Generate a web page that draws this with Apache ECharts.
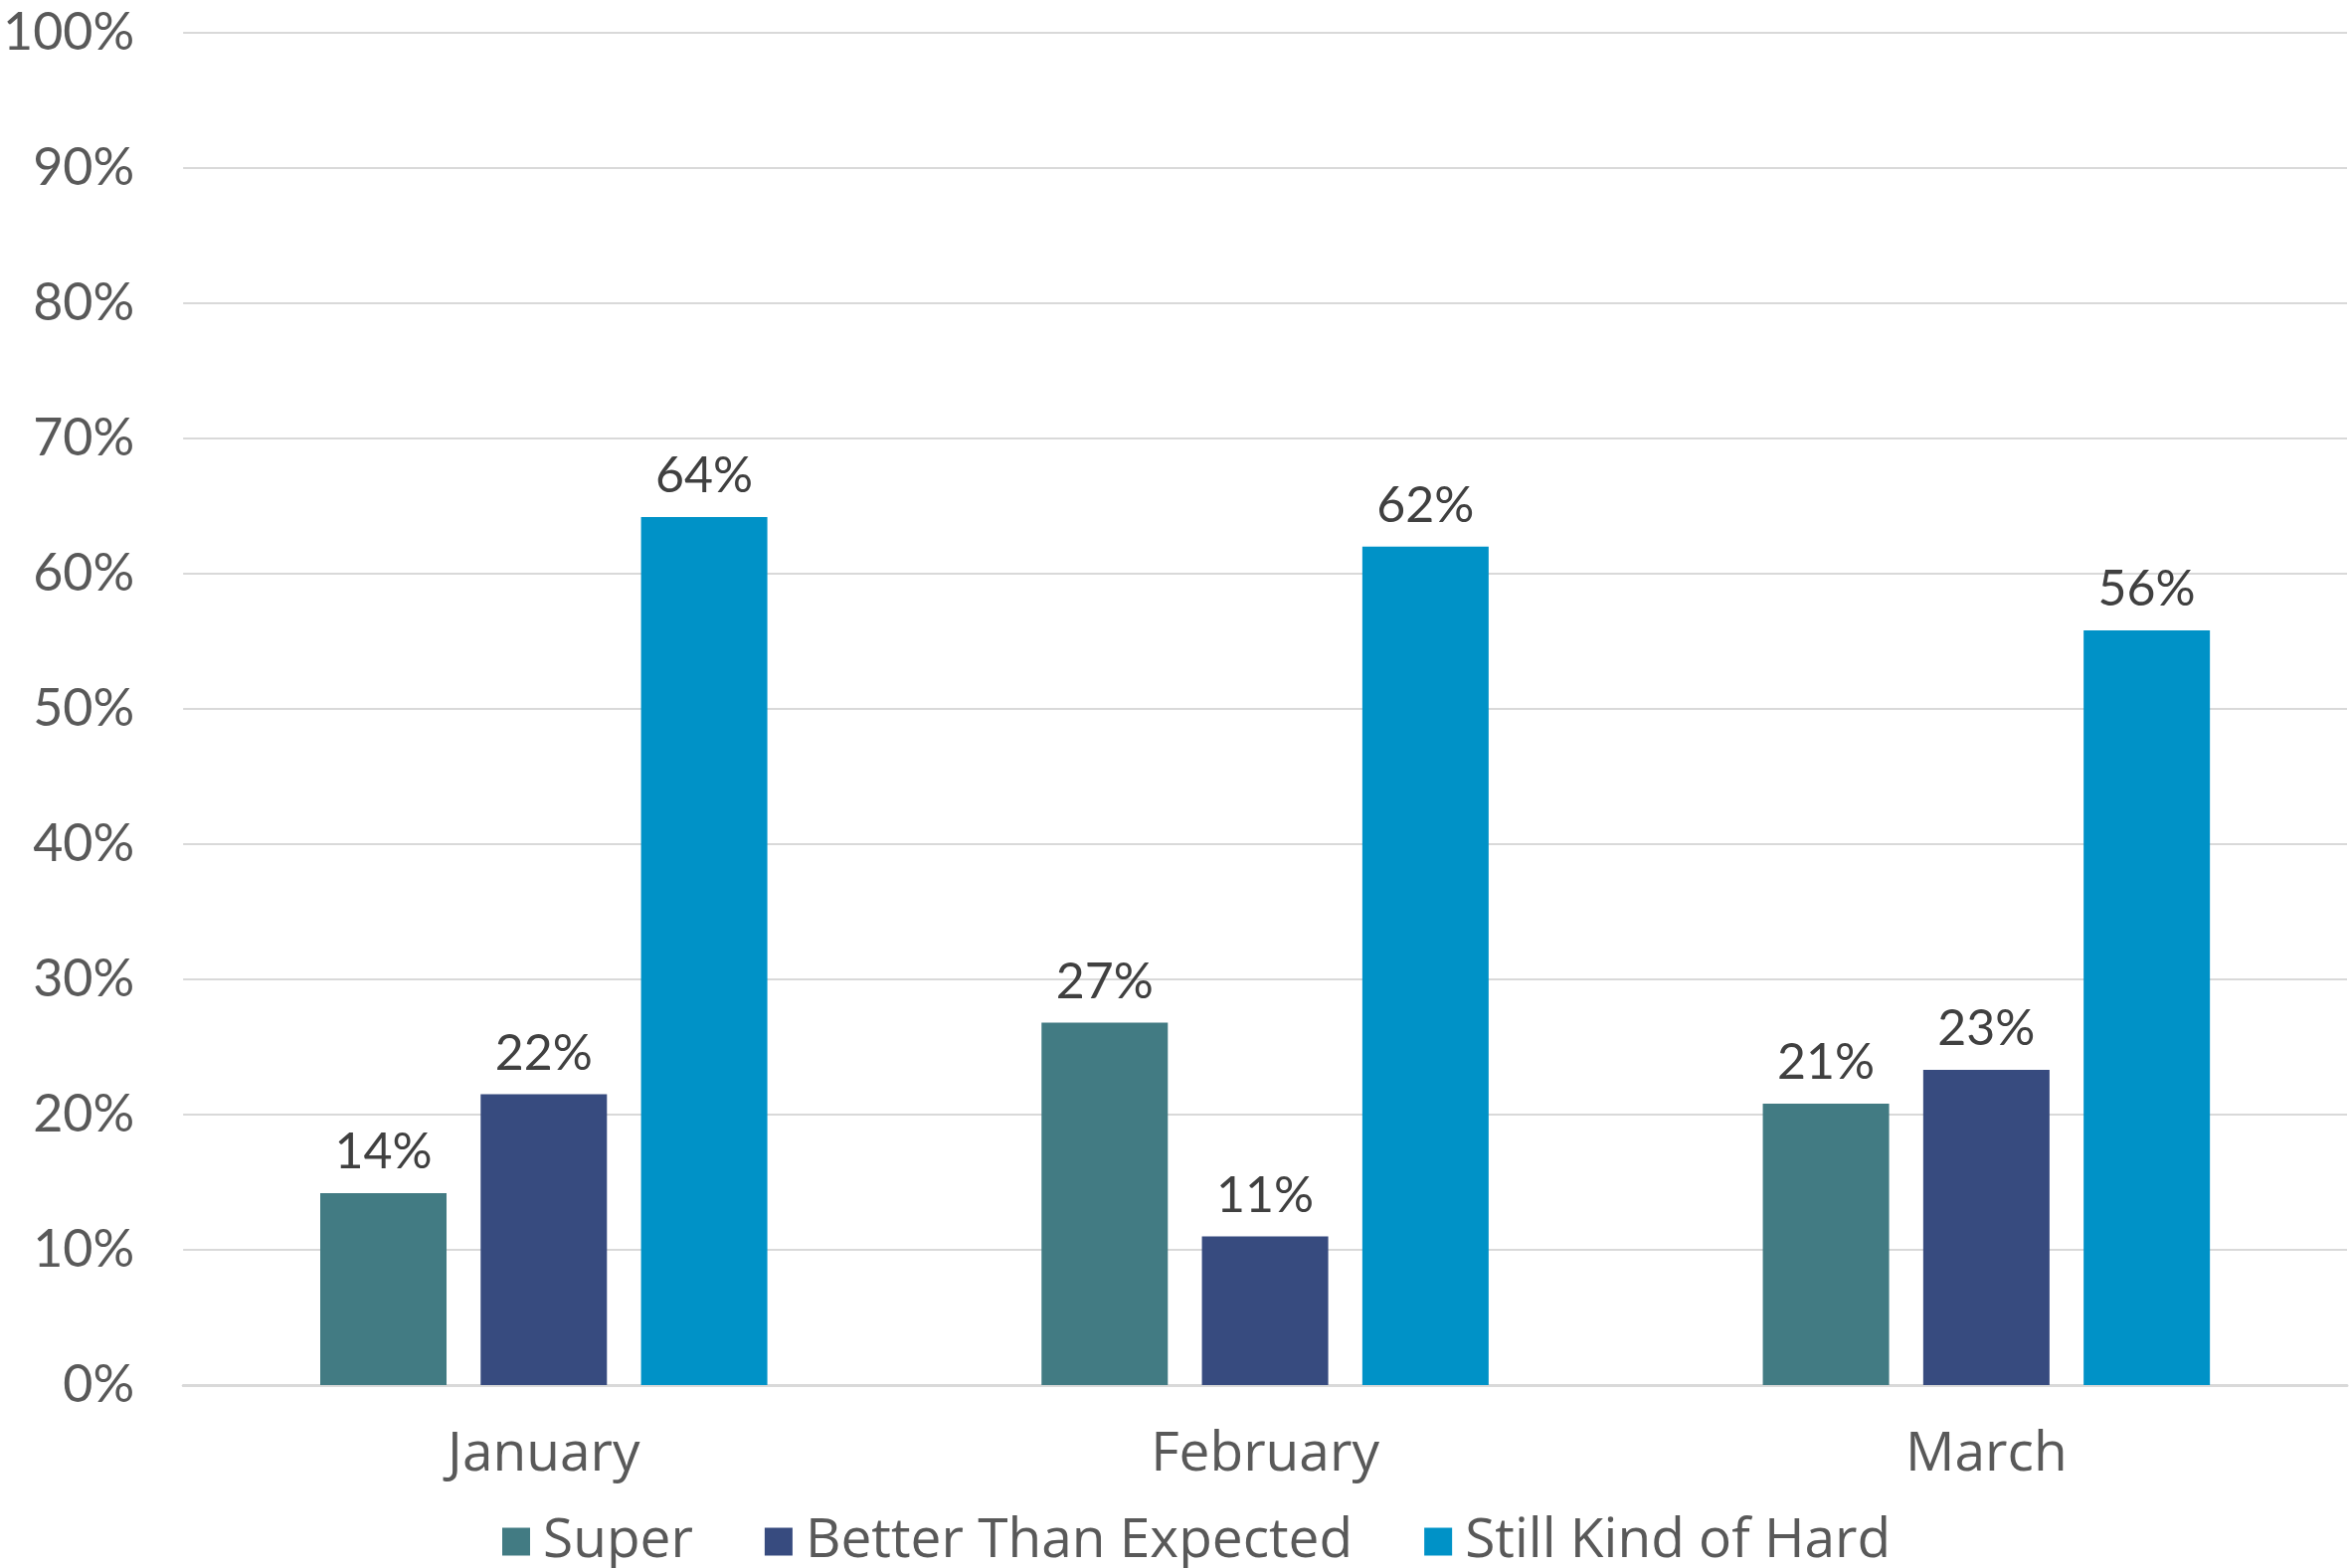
<!DOCTYPE html>
<html>
<head>
<meta charset="utf-8">
<script src="https://cdn.jsdelivr.net/npm/echarts@6/dist/echarts.min.js"></script>
<style>
html,body{margin:0;padding:0;background:#fff;}
#chart{width:2362px;height:1577px;}
</style>
</head>
<body>
<div id="chart"></div>
<script>
const categories = ['January', 'February', 'March'];
const seriesNames = ['Super', 'Better Than Expected', 'Still Kind of Hard'];
const superValues = [14.2, 26.8, 20.8];
const betterValues = [21.5, 11.0, 23.3];
const stillValues = [64.2, 62.0, 55.8];
const colors = ['#427B83', '#374B7F', '#0092C7'];

const FONT = 'Lato, "Open Sans", sans-serif';
const WFONT = '"Open Sans", Lato, sans-serif';
const chart = echarts.init(document.getElementById('chart'), null, {renderer: 'canvas'});

function mk(name, data, color) {
  return {
    name: name,
    type: 'bar',
    data: data,
    barWidth: 127,
    barGap: '27%',
    itemStyle: {color: color},
    label: {
      show: true,
      position: 'top',
      distance: 16,
      color: '#404040',
      fontFamily: FONT,
      fontSize: 50,
      formatter: p => Math.round(p.value) + '%'
    }
  };
}

chart.setOption({
  animation: false,
  backgroundColor: '#fff',
  grid: {left: 181, right: 2, top: 33, bottom: 184, containLabel: false},
  legend: {
    data: seriesNames,
    bottom: -6,
    left: 500,
    icon: 'rect',
    itemWidth: 28,
    itemHeight: 28,
    itemGap: 72,
    textStyle: {color: '#595959', fontFamily: WFONT, fontSize: 55, padding: [0, 0, 0, 8]}
  },
  xAxis: {
    type: 'category',
    data: categories,
    axisLine: {show: true, lineStyle: {color: '#D9D9D9', width: 3}},
    axisTick: {show: false},
    axisLabel: {color: '#595959', fontFamily: WFONT, fontSize: 55, margin: 43}
  },
  yAxis: {
    type: 'value',
    min: 0,
    max: 100,
    interval: 10,
    axisLine: {show: false},
    axisTick: {show: false},
    splitLine: {lineStyle: {color: '#D9D9D9', width: 2}},
    axisLabel: {color: '#595959', fontFamily: FONT, fontSize: 52, margin: 49, formatter: '{value}%'}
  },
  series: [
    mk(seriesNames[0], superValues, colors[0]),
    mk(seriesNames[1], betterValues, colors[1]),
    mk(seriesNames[2], stillValues, colors[2])
  ]
});
</script>
</body>
</html>
